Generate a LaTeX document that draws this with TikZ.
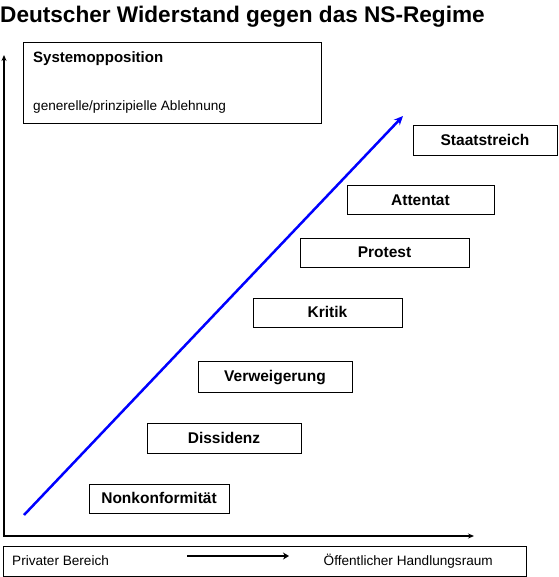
\documentclass[tikz,border=0pt]{standalone}
\usepackage{fontspec}
\setmainfont{Liberation Sans}
\usetikzlibrary{arrows.meta}

\begin{document}
\begin{tikzpicture}[x=1pt,y=-1pt,line join=miter,
    stufe/.style={draw,line width=1pt,inner sep=0pt,
      font=\fontsize{15.5}{18}\selectfont\bfseries,
      text height=12pt,text depth=2pt},
    klein/.style={inner sep=0pt,font=\fontsize{13.6}{16}\selectfont},
    achse/.style={line width=2pt,{Stealth[length=6pt,width=5pt]}-{Stealth[length=6pt,width=5pt]}}]
  \useasboundingbox (0,0) rectangle (558,577);

  % Titel oben links
  \node[anchor=base west,inner sep=0pt,
    font=\fontsize{22.6}{26}\selectfont\bfseries] (titel) at (0,23)
    {Deutscher Widerstand gegen das NS-Regime};

  % Achsen: oben die Intensitaet, rechts der Handlungsraum
  \coordinate (yende) at (4,55);
  \coordinate (ursprung) at (4,536);
  \coordinate (xende) at (474,536);
  \draw[achse] (yende) -- (ursprung) -- (xende);

  % Kasten der Systemopposition
  \node[draw,line width=1pt,inner sep=0pt,minimum width=298,
    minimum height=81] (system) at (172,83.5) {};
  \node[anchor=base west,inner sep=0pt,
    font=\fontsize{15}{18}\selectfont\bfseries] (systemtitel)
    at (33,63) {Systemopposition};
  \node[klein,anchor=base west] (ablehnung) at (33,111)
    {generelle/prinzipielle Ablehnung};

  % Stufen des Widerstands, von unten nach oben
  \node[stufe,minimum width=140,minimum height=29] (nonkonf) at (159,498.5) {Nonkonformit\"at};
  \node[stufe,minimum width=154,minimum height=30] (dissidenz) at (224,438) {Dissidenz};
  \node[stufe,minimum width=154,minimum height=31] (verweig) at (275,376.5) {Verweigerung};
  \node[stufe,minimum width=149,minimum height=29] (kritik) at (327.5,312.5) {Kritik};
  \node[stufe,minimum width=169,minimum height=29] (protest) at (384.5,252.5) {Protest};
  \node[stufe,minimum width=147,minimum height=28] (attentat) at (420.5,200) {Attentat};
  \node[stufe,minimum width=144,minimum height=30] (staatsstr) at (485,141) {Staatstreich};

  % blaue Steigerung
  \coordinate (steigung0) at (24,515);
  \coordinate (steigung1) at (403,116);
  \draw[blue,line width=2.5pt,-{Stealth[length=9pt,width=8pt]}]
    (steigung0) -- (steigung1);

  % Leiste unten
  \node[draw,line width=1pt,inner sep=0pt,minimum width=523,
    minimum height=30] (leiste) at (264.5,561) {};
  \node[klein,anchor=base west] (privat) at (12,565) {Privater Bereich};
  \node[klein,anchor=base east] (oeffentl) at (493,565)
    {\"Offentlicher Handlungsraum};
  \coordinate (pfeil0) at (187,556);
  \coordinate (pfeil1) at (289,556);
  \draw[line width=2.5pt,-{Stealth[length=6pt,width=7pt]}] (pfeil0) -- (pfeil1);
\end{tikzpicture}
\end{document}
